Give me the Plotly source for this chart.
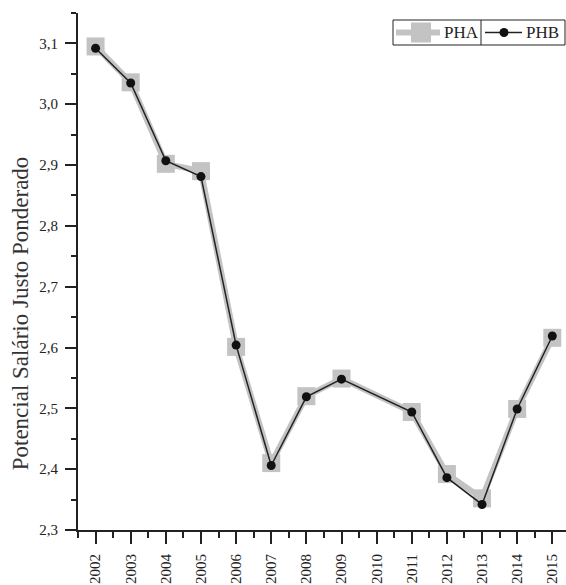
import plotly.graph_objects as go

years = [2002, 2003, 2004, 2005, 2006, 2007, 2008, 2009, 2011, 2012, 2013, 2014, 2015]
pha = [3.095, 3.036, 2.902, 2.890, 2.601, 2.410, 2.520, 2.549, 2.494, 2.392, 2.352, 2.499, 2.616]
phb = [3.092, 3.035, 2.907, 2.881, 2.604, 2.406, 2.519, 2.548, 2.494, 2.386, 2.342, 2.499, 2.619]
xticks = list(range(2002, 2016))
yticks = [2.3, 2.4, 2.5, 2.6, 2.7, 2.8, 2.9, 3.0, 3.1]
ytitle = "Potencial Salário Justo Ponderado"
series_names = ["PHA", "PHB"]

font = "Liberation Serif, Times New Roman, serif"
ink = "#222222"
gray = "#c3c3c3"

# plot area in pixels (for placing the legend box)
L, R, T, B = 78, 566, 13, 530


def px(x):
    return (x - L) / (R - L)


def py(y):
    return (B - y) / (B - T)


fig = go.Figure()
fig.add_trace(go.Scatter(
    x=years, y=pha, name=series_names[0], mode="lines+markers",
    line=dict(color=gray, width=6),
    marker=dict(symbol="square", size=18, color=gray),
))
fig.add_trace(go.Scatter(
    x=years, y=phb, name=series_names[1], mode="lines+markers",
    line=dict(color=ink, width=1.5),
    marker=dict(symbol="circle", size=9, color="#111111"),
))

# legend box drawn with shapes + annotations
ly = py(32.5)
shapes = [
    dict(type="rect", xref="paper", yref="paper", x0=px(393), x1=px(565), y0=py(45), y1=py(20),
         line=dict(color=ink, width=1), fillcolor="white", layer="above"),
    dict(type="line", xref="paper", yref="paper", x0=px(481), x1=px(481), y0=py(45), y1=py(20),
         line=dict(color=ink, width=1), layer="above"),
    dict(type="line", xref="paper", yref="paper", x0=px(396), x1=px(440), y0=ly, y1=ly,
         line=dict(color=gray, width=6), layer="above"),
    dict(type="rect", xref="paper", yref="paper", xsizemode="pixel", ysizemode="pixel",
         xanchor=px(421), yanchor=ly, x0=-10, x1=10, y0=-10, y1=10,
         line=dict(width=0), fillcolor=gray, layer="above"),
    dict(type="line", xref="paper", yref="paper", x0=px(485), x1=px(522), y0=ly, y1=ly,
         line=dict(color=ink, width=1.5), layer="above"),
    dict(type="circle", xref="paper", yref="paper", xsizemode="pixel", ysizemode="pixel",
         xanchor=px(504), yanchor=ly, x0=-4.5, x1=4.5, y0=-4.5, y1=4.5,
         line=dict(width=0), fillcolor="#111111", layer="above"),
]

annotations = [
    dict(text=ytitle, textangle=-90, xref="paper", yref="paper",
         x=-0.118, y=0.42, xanchor="center", yanchor="middle", showarrow=False,
         font=dict(family=font, size=23, color="#333333")),
    dict(text=series_names[0], xref="paper", yref="paper", x=px(442), y=ly,
         xanchor="left", yanchor="middle", showarrow=False,
         font=dict(family=font, size=17, color=ink)),
    dict(text=series_names[1], xref="paper", yref="paper", x=px(524), y=ly,
         xanchor="left", yanchor="middle", showarrow=False,
         font=dict(family=font, size=17, color=ink)),
]

fig.update_layout(
    width=566, height=585,
    margin=dict(l=L, r=566 - R, t=T, b=585 - B, autoexpand=False),
    paper_bgcolor="white", plot_bgcolor="white",
    separators=", ",
    font=dict(family=font, size=14, color=ink),
    showlegend=False,
    xaxis=dict(
        range=[2001.5, 2015.39], tickvals=xticks, ticktext=[str(v) for v in xticks],
        tickangle=-90, showgrid=False, zeroline=False, automargin=False,
        showline=True, linecolor=ink, linewidth=2,
        ticks="outside", ticklen=12, tickwidth=2, tickcolor=ink, ticklabelstandoff=4,
        minor=dict(tickvals=[v + 0.5 for v in range(2001, 2016)], ticks="outside",
                   ticklen=6, tickwidth=2, tickcolor=ink),
        tickfont=dict(family=font, size=15, color=ink),
    ),
    yaxis=dict(
        range=[2.3, 3.15], tickvals=yticks, tickformat=".1f",
        showgrid=False, zeroline=False, automargin=False,
        showline=True, linecolor=ink, linewidth=2,
        ticks="outside", ticklen=11, tickwidth=2, tickcolor=ink, ticklabelstandoff=4,
        minor=dict(tickvals=[2.35, 2.45, 2.55, 2.65, 2.75, 2.85, 2.95, 3.05, 3.15], ticks="outside",
                   ticklen=5, tickwidth=2, tickcolor=ink),
        tickfont=dict(family=font, size=15, color=ink),
    ),
    shapes=shapes,
    annotations=annotations,
)

fig.write_html("out.html", config={"displayModeBar": False},
               post_script="document.body.style.margin='0';")
